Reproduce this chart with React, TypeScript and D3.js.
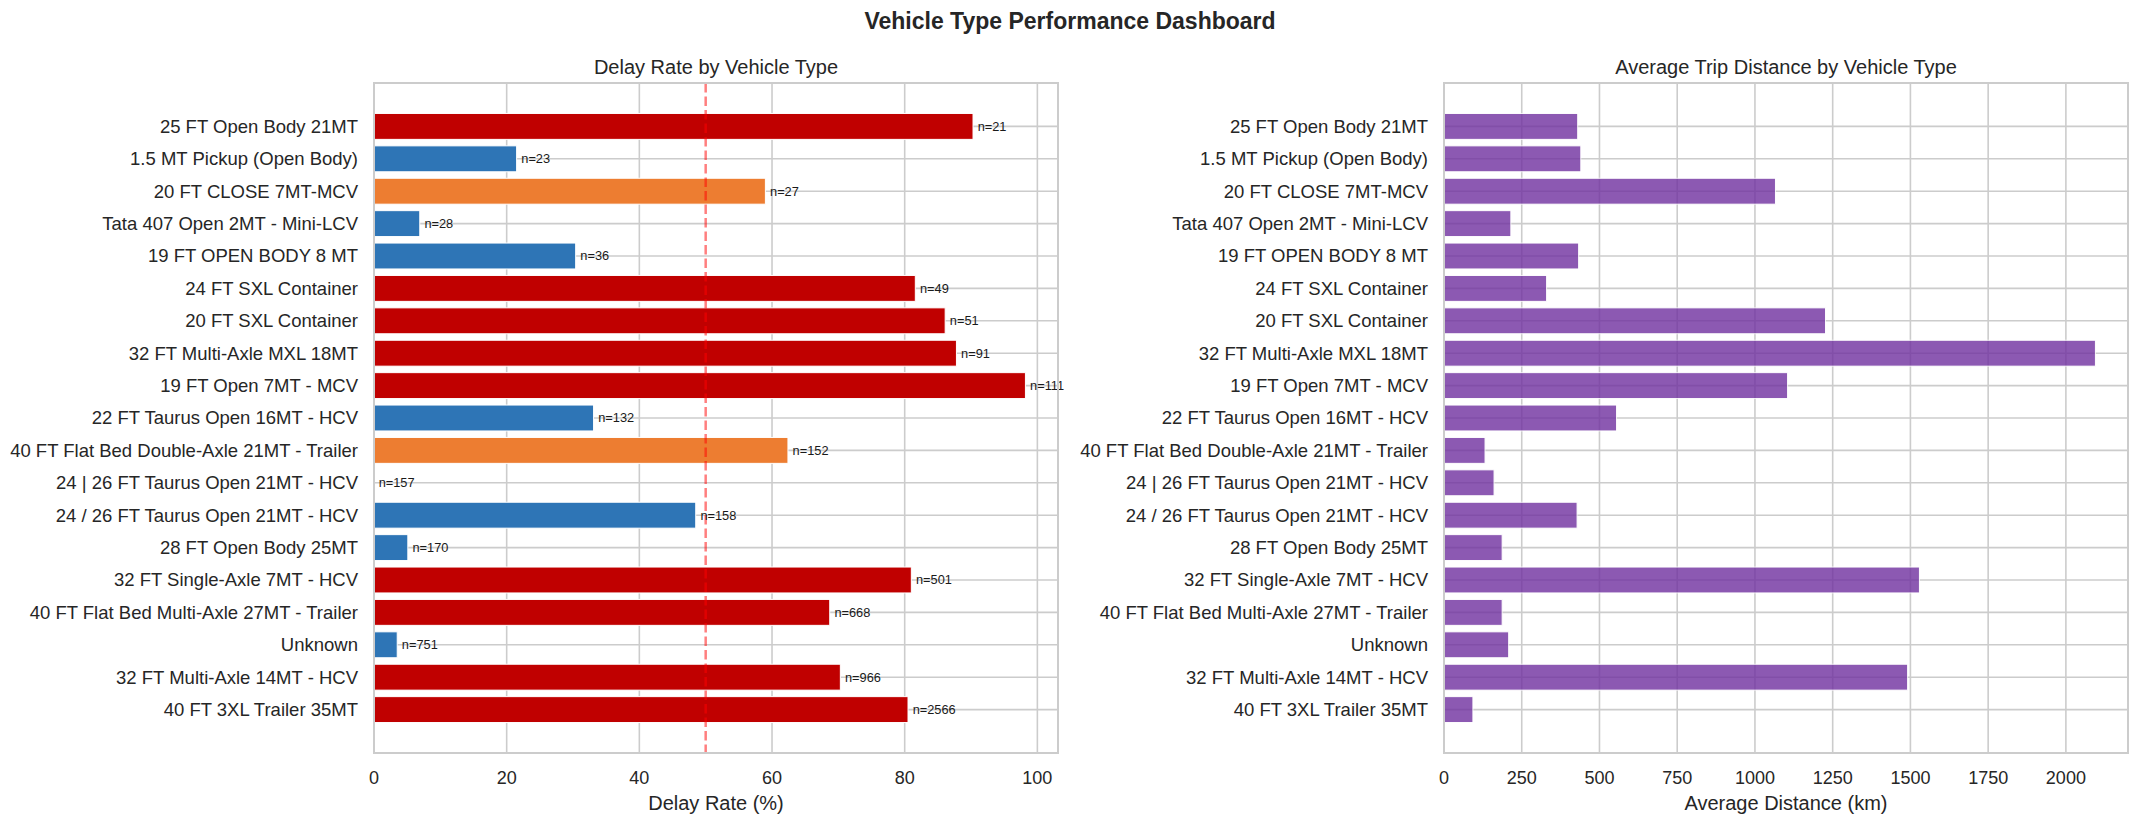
import * as d3 from "d3"

const VEHICLES = [
  "25 FT Open Body 21MT",
  "1.5 MT Pickup (Open Body)",
  "20 FT CLOSE 7MT-MCV",
  "Tata 407 Open 2MT - Mini-LCV",
  "19 FT OPEN BODY 8 MT",
  "24 FT SXL Container",
  "20 FT SXL Container",
  "32 FT Multi-Axle MXL 18MT",
  "19 FT Open 7MT - MCV",
  "22 FT Taurus Open 16MT - HCV",
  "40 FT Flat Bed Double-Axle 21MT - Trailer",
  "24 | 26 FT Taurus Open 21MT - HCV",
  "24 / 26 FT Taurus Open 21MT - HCV",
  "28 FT Open Body 25MT",
  "32 FT Single-Axle 7MT - HCV",
  "40 FT Flat Bed Multi-Axle 27MT - Trailer",
  "Unknown",
  "32 FT Multi-Axle 14MT - HCV",
  "40 FT 3XL Trailer 35MT",
]

// delay rate in %
const DELAY_RATE = [90.3, 21.5, 59.0, 6.9, 30.4, 81.6, 86.1, 87.8, 98.2, 33.1, 62.4, 0, 48.5, 5.1, 81.0, 68.7, 3.5, 70.3, 80.5]
const TRIPS = [21, 23, 27, 28, 36, 49, 51, 91, 111, 132, 152, 157, 158, 170, 501, 668, 751, 966, 2566]
// average distance in km
const AVG_DISTANCE = [430, 440, 1066, 215, 433, 330, 1227, 2095, 1105, 555, 132, 161, 428, 187, 1529, 187, 208, 1491, 93]

const DELAY_TICKS = [0, 20, 40, 60, 80, 100]
const DISTANCE_TICKS = [0, 250, 500, 750, 1000, 1250, 1500, 1750, 2000]
const DELAY_THRESHOLD = 50

const FONT = "'Liberation Sans', Arial, Helvetica, sans-serif"
const TEXT = "#262626"
const GRID = "#cccccc"

const TOP = 83
const BOTTOM = 753

function delayColor(v: number) {
  if (v > 65) return "#c00000"
  if (v > 50) return "#ed7d31"
  return "#2e75b6"
}

type PanelProps = {
  left: number
  right: number
  title: string
  xLabel: string
  values: number[]
  ticks: number[]
  color: (v: number, i: number) => string
  opacity?: number
  labels?: string[]
  threshold?: number
}

function Panel({ left, right, title, xLabel, values, ticks, color, opacity = 1, labels, threshold }: PanelProps) {
  const x = d3.scaleLinear().domain([0, (d3.max(values) ?? 1) * 1.05]).range([left, right])
  const n = VEHICLES.length
  const y = d3.scaleLinear().domain([-0.4 - 0.94, n - 1 + 0.4 + 0.94]).range([TOP, BOTTOM])
  const barH = y(0.8) - y(0)
  const mid = (left + right) / 2

  return (
    <g>
      {/* grid */}
      {ticks.map((t) => (
        <line key={"gx" + t} x1={x(t)} x2={x(t)} y1={TOP} y2={BOTTOM} stroke={GRID} strokeWidth={1.6} />
      ))}
      {VEHICLES.map((_, i) => (
        <line key={"gy" + i} x1={left} x2={right} y1={y(i)} y2={y(i)} stroke={GRID} strokeWidth={1.6} />
      ))}

      {/* bars */}
      <g opacity={opacity}>
        {values.map((v, i) => (
          <rect
            key={i}
            x={x(0)}
            y={y(i) - barH / 2}
            width={Math.max(0, x(v) - x(0))}
            height={barH}
            fill={color(v, i)}
            stroke="white"
            strokeWidth={1}
          />
        ))}
      </g>

      {threshold !== undefined && (
        <line
          x1={x(threshold)}
          x2={x(threshold)}
          y1={TOP}
          y2={BOTTOM}
          stroke="red"
          strokeOpacity={0.5}
          strokeWidth={2.5}
          strokeDasharray="9.5,4"
        />
      )}

      {labels &&
        labels.map((l, i) => (
          <text key={"n" + i} x={x(values[i] + 0.7)} y={y(i)} dy="0.35em" fontSize={12.8} fill="#1a1a1a">
            {l}
          </text>
        ))}

      {/* frame */}
      <rect x={left} y={TOP} width={right - left} height={BOTTOM - TOP} fill="none" stroke={GRID} strokeWidth={2} />

      {/* y tick labels */}
      {VEHICLES.map((name, i) => (
        <text key={"yl" + i} x={left - 16} y={y(i)} dy="0.35em" textAnchor="end" fontSize={18.5} fill={TEXT}>
          {name}
        </text>
      ))}

      {/* x tick labels */}
      {ticks.map((t) => (
        <text key={"xl" + t} x={x(t)} y={784} textAnchor="middle" fontSize={18} fill={TEXT}>
          {t}
        </text>
      ))}

      <text x={mid} y={810} textAnchor="middle" fontSize={20} fill={TEXT}>
        {xLabel}
      </text>
      <text x={mid} y={74} textAnchor="middle" fontSize={20} fill={TEXT}>
        {title}
      </text>
    </g>
  )
}

export default function App() {
  return (
    <div style={{ position: "absolute", left: 0, top: 0 }}>
      <svg width={2140} height={825} viewBox="0 0 2140 825" style={{ display: "block", fontFamily: FONT }}>
        <rect width={2140} height={825} fill="white" />
        <text x={1070} y={29} textAnchor="middle" fontSize={23} fontWeight="bold" fill={TEXT}>
          Vehicle Type Performance Dashboard
        </text>
        <Panel
          left={374}
          right={1058}
          title="Delay Rate by Vehicle Type"
          xLabel="Delay Rate (%)"
          values={DELAY_RATE}
          ticks={DELAY_TICKS}
          color={(v) => delayColor(v)}
          labels={TRIPS.map((t) => `n=${t}`)}
          threshold={DELAY_THRESHOLD}
        />
        <Panel
          left={1444}
          right={2128}
          title="Average Trip Distance by Vehicle Type"
          xLabel="Average Distance (km)"
          values={AVG_DISTANCE}
          ticks={DISTANCE_TICKS}
          color={() => "#7030a0"}
          opacity={0.8}
        />
      </svg>
    </div>
  )
}
